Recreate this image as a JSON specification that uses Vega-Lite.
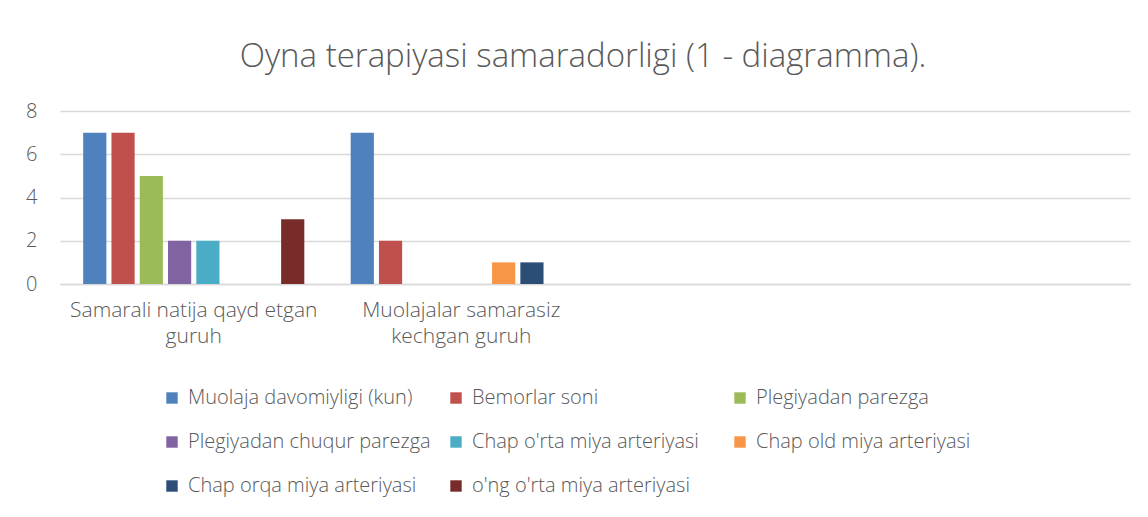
{
  "$schema": "https://vega.github.io/schema/vega-lite/v6.json",
  "width": 1070,
  "height": 173,
  "autosize": {"type": "none"},
  "padding": {"left": 60, "top": 111, "right": 18, "bottom": 233},
  "background": "white",
  "title": {
    "text": "Oyna terapiyasi samaradorligi (1 - diagramma).",
    "font": "Open Sans",
    "fontSize": 33,
    "fontWeight": 300,
    "color": "#595959",
    "anchor": "middle",
    "dx": -12,
    "offset": 27
  },
  "data": {
    "values": [
      {"guruh": "Samarali natija qayd etgan guruh", "seriya": "Muolaja davomiyligi (kun)", "qiymat": 7},
      {"guruh": "Samarali natija qayd etgan guruh", "seriya": "Bemorlar soni", "qiymat": 7},
      {"guruh": "Samarali natija qayd etgan guruh", "seriya": "Plegiyadan parezga", "qiymat": 5},
      {"guruh": "Samarali natija qayd etgan guruh", "seriya": "Plegiyadan chuqur parezga", "qiymat": 2},
      {"guruh": "Samarali natija qayd etgan guruh", "seriya": "Chap o'rta miya arteriyasi", "qiymat": 2},
      {"guruh": "Samarali natija qayd etgan guruh", "seriya": "Chap old miya arteriyasi", "qiymat": 0},
      {"guruh": "Samarali natija qayd etgan guruh", "seriya": "Chap orqa miya arteriyasi", "qiymat": 0},
      {"guruh": "Samarali natija qayd etgan guruh", "seriya": "o'ng o'rta miya arteriyasi", "qiymat": 3},
      {"guruh": "Muolajalar samarasiz kechgan guruh", "seriya": "Muolaja davomiyligi (kun)", "qiymat": 7},
      {"guruh": "Muolajalar samarasiz kechgan guruh", "seriya": "Bemorlar soni", "qiymat": 2},
      {"guruh": "Muolajalar samarasiz kechgan guruh", "seriya": "Plegiyadan parezga", "qiymat": 0},
      {"guruh": "Muolajalar samarasiz kechgan guruh", "seriya": "Plegiyadan chuqur parezga", "qiymat": 0},
      {"guruh": "Muolajalar samarasiz kechgan guruh", "seriya": "Chap o'rta miya arteriyasi", "qiymat": 0},
      {"guruh": "Muolajalar samarasiz kechgan guruh", "seriya": "Chap old miya arteriyasi", "qiymat": 1},
      {"guruh": "Muolajalar samarasiz kechgan guruh", "seriya": "Chap orqa miya arteriyasi", "qiymat": 1},
      {"guruh": "Muolajalar samarasiz kechgan guruh", "seriya": "o'ng o'rta miya arteriyasi", "qiymat": 0}
    ]
  },
  "mark": {"type": "bar"},
  "encoding": {
    "x": {
      "field": "guruh",
      "type": "nominal",
      "sort": null,
      "scale": {
        "domain": ["Samarali natija qayd etgan guruh", "Muolajalar samarasiz kechgan guruh", "bo'sh 3", "bo'sh 4"],
        "paddingInner": 0,
        "paddingOuter": 0
      },
      "axis": {
        "title": null,
        "labelAngle": 0,
        "labelExpr": "datum.value == 'Samarali natija qayd etgan guruh' ? ['Samarali natija qayd etgan', 'guruh'] : datum.value == 'Muolajalar samarasiz kechgan guruh' ? ['Muolajalar samarasiz', 'kechgan guruh'] : ''",
        "labelFont": "Open Sans",
        "labelFontWeight": 300,
        "labelFontSize": 21,
        "labelColor": "#595959",
        "labelLineHeight": 26,
        "labelPadding": 15,
        "labelLimit": 400,
        "ticks": false,
        "domainColor": "#D9D9D9",
        "domainWidth": 1.3,
        "grid": false
      }
    },
    "xOffset": {
      "field": "seriya",
      "type": "nominal",
      "scale": {
        "domain": ["Muolaja davomiyligi (kun)", "Bemorlar soni", "Plegiyadan parezga", "Plegiyadan chuqur parezga", "Chap o'rta miya arteriyasi", "Chap old miya arteriyasi", "Chap orqa miya arteriyasi", "o'ng o'rta miya arteriyasi"],
        "paddingInner": 0.18,
        "paddingOuter": 0.82
      }
    },
    "y": {
      "field": "qiymat",
      "type": "quantitative",
      "scale": {"domain": [0, 8], "nice": false},
      "axis": {
        "title": null,
        "values": [0, 2, 4, 6, 8],
        "domain": false,
        "ticks": false,
        "labelFont": "Open Sans",
        "labelFontWeight": 300,
        "labelFontSize": 20,
        "labelColor": "#595959",
        "labelPadding": 23,
        "gridColor": "#D9D9D9",
        "gridWidth": 1.3
      }
    },
    "color": {
      "field": "seriya",
      "type": "nominal",
      "scale": {
        "domain": ["Muolaja davomiyligi (kun)", "Bemorlar soni", "Plegiyadan parezga", "Plegiyadan chuqur parezga", "Chap o'rta miya arteriyasi", "Chap old miya arteriyasi", "Chap orqa miya arteriyasi", "o'ng o'rta miya arteriyasi"],
        "range": ["#4F81BD", "#C0504D", "#9BBB59", "#8064A2", "#4BACC6", "#F79646", "#2C4D75", "#772C2A"]
      },
      "legend": {
        "title": null,
        "orient": "none",
        "legendX": 102,
        "legendY": 277,
        "direction": "horizontal",
        "columns": 3,
        "gridAlign": "all",
        "symbolType": "square",
        "symbolSize": 130,
        "symbolStrokeWidth": 0,
        "symbolOpacity": 1,
        "labelFont": "Open Sans",
        "labelFontWeight": 300,
        "labelFontSize": 20,
        "labelColor": "#595959",
        "labelLimit": 400,
        "labelOffset": 6,
        "rowPadding": 24,
        "columnPadding": 15
      }
    }
  },
  "config": {
    "view": {"stroke": null}
  }
}
